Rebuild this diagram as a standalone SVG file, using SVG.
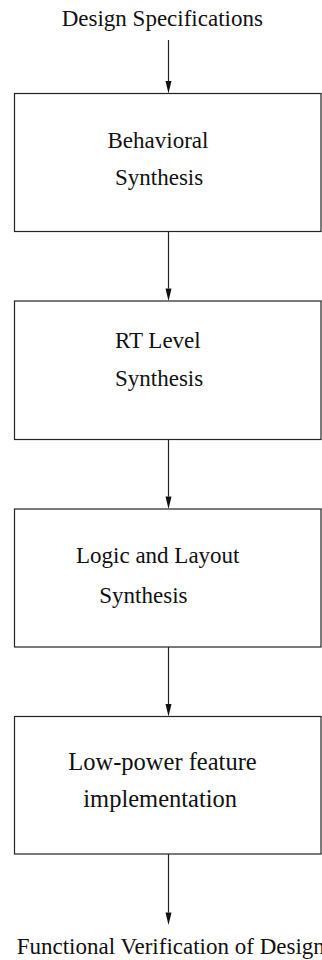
<svg xmlns="http://www.w3.org/2000/svg" width="322" height="960" viewBox="0 0 322 960">
<style>
.box{fill:#fff;stroke:#222;stroke-width:1.2}
.edge{stroke:#222;stroke-width:1.2;fill:none}
.t{font-family:"Liberation Serif","Times New Roman",serif;font-size:23px;fill:#111}
.tb{font-family:"Liberation Serif","Times New Roman",serif;font-size:24.5px;fill:#111}
</style>
<defs>
<marker id="ah" markerUnits="userSpaceOnUse" markerWidth="8" markerHeight="14" refX="6" refY="13" orient="auto-start-reverse" viewBox="0 0 12 14">
<path d="M3,0 L9,0 L6,13 Z" fill="#111" transform="rotate(0)"/>
</marker>
</defs>
<rect width="322" height="960" fill="#fff"/>
<g id="start"><text class="t" x="61.7" y="26">Design Specifications</text></g>
<g id="connectors">
<line class="edge" x1="168.5" y1="40" x2="168.5" y2="81"/>
<path d="M165.5,81 L171.5,81 L168.5,93.5 Z" fill="#111"/>
<line class="edge" x1="168.5" y1="231.5" x2="168.5" y2="288.5"/>
<path d="M165.5,288.5 L171.5,288.5 L168.5,301 Z" fill="#111"/>
<line class="edge" x1="168.5" y1="439.5" x2="168.5" y2="496.5"/>
<path d="M165.5,496.5 L171.5,496.5 L168.5,509 Z" fill="#111"/>
<line class="edge" x1="168.5" y1="647" x2="168.5" y2="704"/>
<path d="M165.5,704 L171.5,704 L168.5,716.5 Z" fill="#111"/>
<line class="edge" x1="168.5" y1="854" x2="168.5" y2="912.5"/>
<path d="M165.5,912.5 L171.5,912.5 L168.5,925 Z" fill="#111"/>
</g>
<g id="behavioral">
<rect class="box" x="14.5" y="93.5" width="306.5" height="138"/>
<text class="t" x="107.5" y="148.3">Behavioral</text>
<text class="t" x="115" y="185.3">Synthesis</text>
</g>
<g id="rtlevel">
<rect class="box" x="14.5" y="301" width="306.5" height="138.5"/>
<text class="t" x="115" y="348.3">RT Level</text>
<text class="t" x="115" y="385.7">Synthesis</text>
</g>
<g id="logic">
<rect class="box" x="14.5" y="509" width="306.5" height="138"/>
<text class="t" x="76" y="563.3">Logic and Layout</text>
<text class="t" x="99.3" y="603.3">Synthesis</text>
</g>
<g id="lowpower">
<rect class="box" x="14.5" y="716.5" width="306.5" height="137.5"/>
<text class="tb" x="68.3" y="769.5">Low-power feature</text>
<text class="tb" x="83.3" y="806.7">implementation</text>
</g>
<g id="end"><text class="t" x="16.7" y="954.3">Functional Verification of Design</text></g>
</svg>
